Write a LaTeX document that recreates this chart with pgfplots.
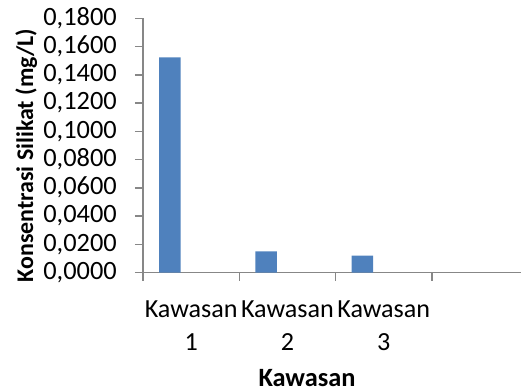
\documentclass[border=0pt]{standalone}
\usepackage{pgfplots}
\pgfplotsset{compat=1.18}
\usepackage{fontspec}
\setmainfont{Carlito}
\definecolor{barblue}{HTML}{4F81BD}
\definecolor{axgray}{HTML}{878787}

\begin{document}
\begin{tikzpicture}
\begin{axis}[
  scale only axis,
  width=378bp, height=254.2bp,
  at={(0,0)}, anchor=south west,
  xmin=-0.5, xmax=3.425,
  ymin=0, ymax=0.18,
  axis lines*=left,
  axis line style={draw=axgray, line width=1.5bp},
  tick style={draw=axgray, line width=1.5bp},
  tick align=outside,
  major tick length=8bp,
  ytick={0,0.02,0.04,0.06,0.08,0.10,0.12,0.14,0.16,0.18},
  yticklabel style={
    /pgf/number format/.cd, fixed, fixed zerofill, precision=4, use comma,
    assume math mode=true,
    /tikz/.cd, font=\fontsize{26.5}{30}\selectfont, anchor=east, inner sep=0pt, xshift=-18bp},
  % category boundaries carry the ticks; labels sit half a category to the right
  xtick={-0.5,0.5,1.5,2.5},
  xticklabels={{Kawasan\\1},{Kawasan\\2},{Kawasan\\3},{}},
  xticklabel style={font=\fontsize{26.2}{33.3}\selectfont, align=center,
    anchor=north, inner sep=0pt, xshift=48.15bp, yshift=-20bp},
  xlabel={Kawasan},
  xlabel style={font=\bfseries\fontsize{26.5}{30}\selectfont,
    at={(axis description cs:0.434,0)}, anchor=base, yshift=-114bp},
  ylabel={Konsentrasi Silikat (mg/L)},
  ylabel style={font=\bfseries\fontsize{24}{28}\selectfont,
    at={(axis description cs:-0.291,0.46)}, anchor=base},
  clip=false,
]
\addplot[ybar, bar width=0.223, bar shift=-0.221, fill=barblue, draw=none]
  coordinates {(0,0.1524) (1,0.0149) (2,0.0120)};
\end{axis}
\pgfresetboundingbox
\path[use as bounding box] (-143bp,-119.5bp) rectangle (378bp,272.5bp);
\end{tikzpicture}
\end{document}
